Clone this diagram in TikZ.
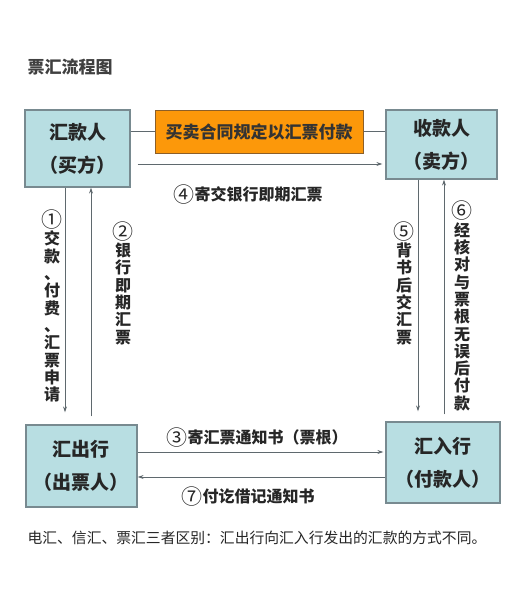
\documentclass[tikz,border=0pt]{standalone}
\usepackage{fontspec}
\setmainfont{Noto Sans CJK SC}
\usetikzlibrary{arrows.meta}
\definecolor{boxfill}{RGB}{184,222,226}
\definecolor{boxline}{RGB}{120,138,144}
\definecolor{dealfill}{RGB}{252,152,10}
\definecolor{dealline}{RGB}{140,95,40}
\definecolor{flowline}{RGB}{95,105,110}
% larger circled step numbers (in a row / in a column)
\newcommand{\circno}[1]{\raisebox{-2.2pt}{\mdseries\fontsize{21}{17}\selectfont #1}}
\newcommand{\vcircno}[1]{{\mdseries\fontsize{21}{17.3}\selectfont #1}}
\tikzset{
  party/.style={draw=boxline, line width=1.3pt, fill=boxfill, inner sep=0pt,
    align=center, text=black!85, font=\fontsize{19}{33}\selectfont\bfseries},
  flow/.style={draw=flowline, line width=0.9pt, -{Stealth[length=6pt,width=4pt]}},
  link/.style={draw=flowline, line width=0.9pt},
  lbl/.style={inner sep=0pt, text=black!85, font=\fontsize{16}{17.3}\selectfont\bfseries},
  vlbl/.style={lbl, align=center}
}
\begin{document}
\begin{tikzpicture}[x=1pt,y=-1pt]
    \useasboundingbox (0,0) rectangle (523,600);
    \node[lbl, font=\fontsize{17}{17}\selectfont\bfseries, text=black!75] (title) at (70,67) {票汇流程图};
    % four parties
    \node[party, minimum width=105pt, minimum height=77pt] (buyer) at (77.5,148.5) {汇款人\\（买方）};
    \node[party, minimum width=111pt, minimum height=69pt] (seller) at (441.5,144.5) {收款人\\（卖方）};
    \node[party, minimum width=111pt, minimum height=82pt] (drawer) at (81.5,466) {汇出行\\（出票人）};
    \node[party, minimum width=114pt, minimum height=81pt] (payer) at (443,462.5) {汇入行\\（付款人）};
    \node[draw=dealline, line width=1pt, fill=dealfill, minimum width=208pt, minimum height=43pt,
      font=\fontsize{17}{17}\selectfont\bfseries, text=black!80] (deal) at (259,131.5) {买卖合同规定以汇票付款};
    \draw[link] (buyer.east |- deal.west) -- (deal.west);
    \draw[link] (deal.east) -- (seller.west |- deal.east);
    % buyer -> seller
    \draw[flow, shorten <=7pt, shorten >=3pt] (buyer.east |- 0,164) -- (seller.west |- 0,164);
    \node[lbl] (l4) at (248,195) {\circno{④}寄交银行即期汇票};
    % buyer <-> drawer
    \draw[flow, shorten >=12pt] (buyer.south -| 65,0) -- (drawer.north -| 65,0);
    \draw[flow, shorten <=8pt] (drawer.north -| 91,0) -- (buyer.south -| 91,0);
    \node[vlbl] (l1) at (52,306) {\vcircno{①}\\交\\款\\、\\付\\费\\、\\汇\\票\\申\\请};
    \node[vlbl] (l2) at (123,283) {\vcircno{②}\\银\\行\\即\\期\\汇\\票};
    % seller <-> payer
    \draw[flow, shorten >=10pt] (seller.south -| 418,0) -- (payer.north -| 418,0);
    \draw[flow, shorten <=7pt] (payer.north -| 444,0) -- (seller.south -| 444,0);
    \node[vlbl] (l5) at (404,283) {\vcircno{⑤}\\背\\书\\后\\交\\汇\\票};
    \node[vlbl] (l6) at (462,306) {\vcircno{⑥}\\经\\核\\对\\与\\票\\根\\无\\误\\后\\付\\款};
    % drawer <-> payer
    \draw[flow, shorten >=2pt] (drawer.east |- 0,452) -- (payer.west |- 0,452);
    \draw[flow] (payer.west |- 0,477) -- (drawer.east |- 0,477);
    \node[lbl] (l3) at (257,438) {\circno{③}寄汇票通知书（票根）};
    \node[lbl] (l7) at (248,497) {\circno{⑦}付讫借记通知书};
    \node[lbl, font=\fontsize{14.8}{15}\selectfont] (note) at (257,538) {电汇、信汇、票汇三者区别：汇出行向汇入行发出的汇款的方式不同。};
\end{tikzpicture}
\end{document}
